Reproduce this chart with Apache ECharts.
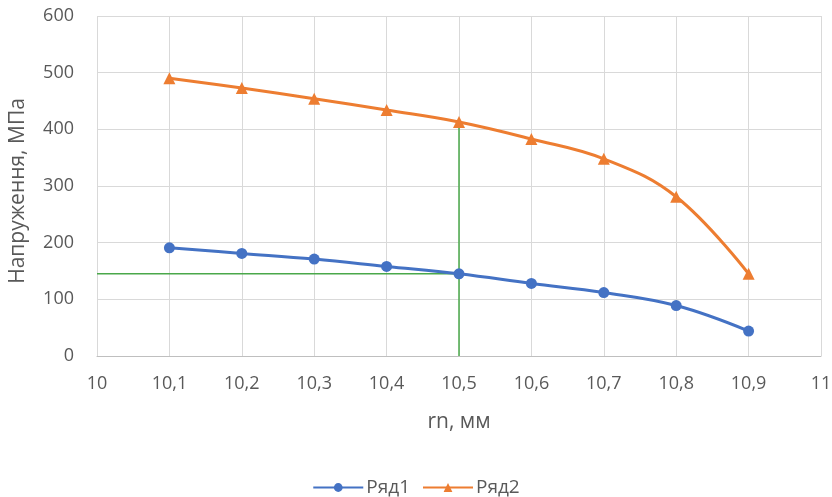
<!DOCTYPE html>
<html>
<head>
<meta charset="utf-8">
<script src="https://cdn.jsdelivr.net/npm/echarts@6/dist/echarts.min.js"></script>
<style>
  html, body { margin: 0; padding: 0; background: #ffffff; }
  #chart { width: 832px; height: 497px; }
</style>
</head>
<body>
<div id="chart"></div>
<script>
// Radius values (mm) and stresses (MPa) for both series
const radius = [10.1, 10.2, 10.3, 10.4, 10.5, 10.6, 10.7, 10.8, 10.9];
const row1 = [191, 181, 171, 158, 145, 128, 112, 89, 44];
const row2 = [490, 473, 454, 434, 413, 383, 348, 281, 145];
const seriesNames = ['Ряд1', 'Ряд2'];

// Reference construction: read the stress at r = 10.5
const markX = 10.5;
const markIdx = radius.indexOf(markX);
const hGuide = [[10, row1[markIdx]], [markX, row1[markIdx]]];
const vGuide = [[markX, 0], [markX, row2[markIdx]]];

const textColor = '#595959';
const fontFamily = '"Open Sans", "Liberation Sans", Arial, sans-serif';

const chart = echarts.init(document.getElementById('chart'));
chart.setOption({
  animation: false,
  textStyle: { fontFamily: fontFamily },
  grid: { left: 97, right: 11, top: 16, bottom: 141, containLabel: false, outerBoundsMode: 'none' },
  xAxis: {
    type: 'value',
    min: 10,
    max: 11,
    interval: 0.1,
    name: 'rn, мм',
    nameLocation: 'middle',
    nameGap: 56,
    nameTextStyle: { color: textColor, fontSize: 21, fontFamily: fontFamily },
    axisLine: { show: true, lineStyle: { color: '#bfbfbf', width: 1 } },
    axisTick: { show: false },
    axisLabel: {
      color: textColor, fontSize: 18, margin: 19, fontFamily: fontFamily,
      formatter: v => String(Math.round(v * 10) / 10).replace('.', ',')
    },
    splitLine: { show: true, lineStyle: { color: '#d9d9d9', width: 1 } }
  },
  yAxis: {
    type: 'value',
    min: 0,
    max: 600,
    interval: 100,
    name: 'Напруження, МПа',
    nameLocation: 'middle',
    nameGap: 68,
    nameTextStyle: { color: textColor, fontSize: 21, fontFamily: fontFamily, padding: [0, 10, 0, 0] },
    axisLine: { show: false },
    axisTick: { show: false },
    axisLabel: { color: textColor, fontSize: 18, margin: 23, fontFamily: fontFamily },
    splitLine: { show: true, lineStyle: { color: '#d9d9d9', width: 1 } }
  },
  legend: {
    data: seriesNames,
    top: 473,
    left: 'center',
    itemWidth: 50,
    itemHeight: 11,
    itemGap: 12,
    textStyle: { color: textColor, fontSize: 19, fontFamily: fontFamily, padding: [0, 0, 0, -2] }
  },
  series: [
    {
      name: 'guide-h',
      type: 'line',
      data: hGuide,
      symbol: 'none',
      silent: true,
      z: 1,
      lineStyle: { color: '#4aa84a', width: 1.5 }
    },
    {
      name: 'guide-v',
      type: 'line',
      data: vGuide,
      symbol: 'none',
      silent: true,
      z: 1,
      lineStyle: { color: '#4aa84a', width: 1.5 }
    },
    {
      name: seriesNames[0],
      type: 'line',
      data: radius.map((r, i) => [r, row1[i]]),
      smooth: 0.4,
      symbol: 'circle',
      symbolSize: 11,
      z: 3,
      itemStyle: { color: '#4472c4' },
      lineStyle: { color: '#4472c4', width: 3 }
    },
    {
      name: seriesNames[1],
      type: 'line',
      data: radius.map((r, i) => [r, row2[i]]),
      smooth: 0.4,
      symbol: 'triangle',
      symbolSize: 12,
      z: 3,
      itemStyle: { color: '#ed7d31' },
      lineStyle: { color: '#ed7d31', width: 3 }
    }
  ]
});
</script>
</body>
</html>
